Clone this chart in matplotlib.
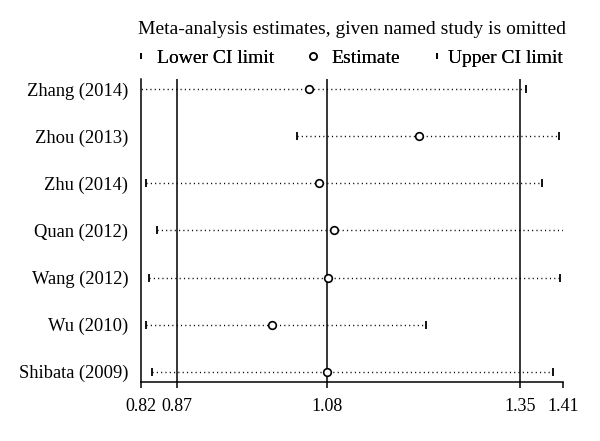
import matplotlib
matplotlib.use("Agg")
import matplotlib.pyplot as plt
from matplotlib.lines import Line2D

studies = ["Zhang (2014)", "Zhou (2013)", "Zhu (2014)", "Quan (2012)",
           "Wang (2012)", "Wu (2010)", "Shibata (2009)"]
estimate = [1.055, 1.208, 1.069, 1.090, 1.081, 1.004, 1.080]
lower = [0.815, 1.038, 0.828, 0.843, 0.832, 0.827, 0.836]
upper = [1.358, 1.404, 1.380, 1.415, 1.405, 1.218, 1.395]
ref_lines = [0.87, 1.08, 1.35]
xticks = [0.82, 0.87, 1.08, 1.35, 1.41]
xticklabels = ["0.82", "0.87", "1.08", "1.35", "1.41"]
title = "Meta-analysis estimates, given named study is omitted"
legend_labels = ["Lower CI limit", "Estimate", "Upper CI limit"]

plt.rcParams['font.family'] = ['Liberation Serif', 'DejaVu Serif']
fs_tick = 13
fs_y = 13.3
fs_leg = 14

W, H = 600, 441
fig = plt.figure(figsize=(6, 4.41), dpi=100)
ax = fig.add_axes([0.2345, 0.1338, 0.7043, 0.6871])

n = len(studies)
ypos = list(range(n, 0, -1))

for xv in ref_lines:
    ax.axvline(xv, color='black', lw=1.1, zorder=1)

ax.hlines(ypos, lower, upper, colors='black', linestyles=(0, (0.8, 2.3)),
          lw=1.0, zorder=2)
ax.plot(lower, ypos, ls='none', marker='|', ms=6, mew=1.3, color='black', zorder=3)
ax.plot(upper, ypos, ls='none', marker='|', ms=6, mew=1.3, color='black', zorder=3)
ax.plot(estimate, ypos, ls='none', marker='o', ms=5.5, mew=1.2,
        mfc='white', mec='black', zorder=4)

ax.set_xlim(xticks[0], xticks[-1])
ax.set_ylim(0.78, n + 0.22)
ax.set_xticks(xticks, xticklabels, fontsize=fs_tick)
ax.set_yticks(ypos, studies, fontsize=fs_y)
ax.tick_params(axis='y', length=0, pad=9)
ax.tick_params(axis='x', length=4.3, width=1.1, pad=7, direction='out')
for s in ['top', 'right']:
    ax.spines[s].set_visible(False)
for s in ['left', 'bottom']:
    ax.spines[s].set_linewidth(1.1)

# title of the legend block
fig.text(352 / W, 1 - 30 / H, title, fontsize=fs_leg, ha='center', va='center')

handles = [
    Line2D([], [], ls='none', marker='|', ms=5, mew=1.2, color='black'),
    Line2D([], [], ls='none', marker='o', ms=5, mew=1.2, mfc='white', mec='black'),
    Line2D([], [], ls='none', marker='|', ms=5, mew=1.2, color='black'),
]
marker_x = [141, 313, 437]
text_x = [157, 331, 448]
hl = 0.6
em_px = fs_leg * 100 / 72
row_y = 1 - 58 / H
for h, lab, mx, tx in zip(handles, legend_labels, marker_x, text_x):
    x0 = mx - hl * em_px / 2
    pad = (tx - (x0 + hl * em_px)) / em_px
    lg = fig.legend([h], [lab], loc='center left', bbox_to_anchor=(x0 / W, row_y),
                    frameon=False, fontsize=fs_leg, handlelength=hl,
                    handletextpad=pad, borderpad=0, borderaxespad=0)
    fig.add_artist(lg)

fig.savefig("out.png", dpi=100)
